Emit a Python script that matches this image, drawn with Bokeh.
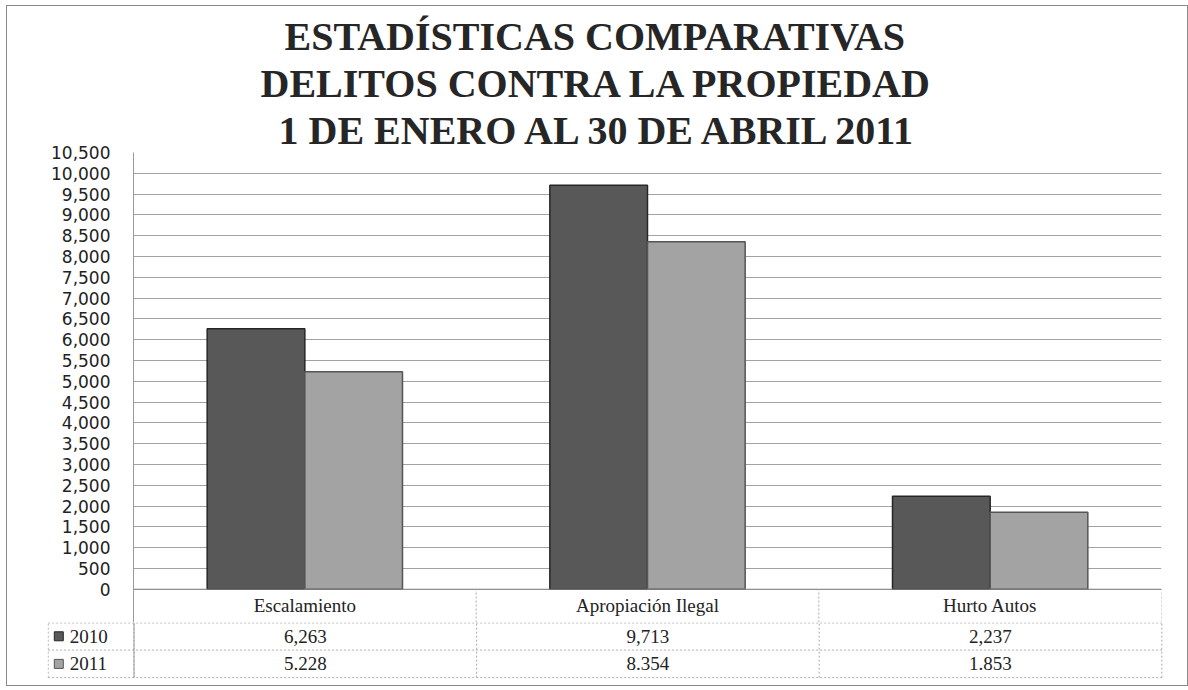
from bokeh.plotting import figure
from bokeh.models import (Range1d, FactorRange, FixedTicker, NumeralTickFormatter,
                          ColumnDataSource, Title)
from bokeh.transform import dodge
from bokeh.layouts import column
from bokeh.embed import file_html
from bokeh.resources import INLINE
from bokeh.core.properties import value

# ---------------- data ----------------
categories = ["Escalamiento", "Apropiación Ilegal", "Hurto Autos"]
years = ["2010", "2011"]
values_2010 = [6263, 9713, 2237]
values_2011 = [5228, 8354, 1853]
thousands_sep = {"2010": ",", "2011": "."}   # as printed in the data table
y_ticks = list(range(0, 10501, 500))
title_lines = ["ESTADÍSTICAS COMPARATIVAS",
               "DELITOS CONTRA LA PROPIEDAD",
               "1 DE ENERO AL 30 DE ABRIL 2011"]

# ---------------- styles / layout ----------------
COL = {"2010": "#585858", "2011": "#a3a3a3"}
EDGE = {"2010": "#262626", "2011": "#555555"}
GRID = "#a2a2a2"
TABLE_LINE = "#ababab"
W = 1180
BAR_W = 0.285
OFFS = {"2010": -0.1425, "2011": 0.1425}
LEG_W = 0.2525
HEADER = 800          # height of the category row below the axis (value units)
SERIF = "Liberation Serif"
TXT = "#222222"
TITLE_OFFSETS = [151, 127, 145]   # px from the frame's left edge (centres the lines)

# ---------------- bar chart (with title and category row) ----------------
p1 = figure(width=W, height=616,
            x_range=FactorRange(factors=categories, range_padding=0, factor_padding=0),
            y_range=Range1d(-HEADER, 10500),
            output_backend="svg", toolbar_location=None,
            x_axis_location=None,
            min_border=0, min_border_left=126, min_border_right=26,
            min_border_top=146, min_border_bottom=0)
p1.outline_line_color = None

# first added title sits closest to the frame -> add bottom line first
for t, off in reversed(list(zip(title_lines, TITLE_OFFSETS))):
    p1.add_layout(Title(text=t, align="left", offset=off, standoff=0,
                        text_font=SERIF, text_font_style="bold",
                        text_font_size="40px", text_color="#262626"), "above")

src = ColumnDataSource(dict(cat=categories, v2010=values_2010, v2011=values_2011))
for yr in years:
    p1.vbar(x=dodge("cat", OFFS[yr], range=p1.x_range), top="v" + yr, width=BAR_W,
            source=src, fill_color=COL[yr], line_color=EDGE[yr], line_width=1.5)

ax = p1.yaxis[0]
ax.ticker = FixedTicker(ticks=y_ticks)
ax.formatter = NumeralTickFormatter(format="0,0")
ax.major_tick_line_color = None
ax.minor_tick_line_color = None
ax.axis_line_color = "#9a9a9a"
ax.major_label_standoff = 17
ax.major_label_text_font = "DejaVu Sans"
ax.major_label_text_font_size = "17px"
ax.major_label_text_color = TXT

p1.ygrid.ticker = FixedTicker(ticks=y_ticks)
p1.ygrid.grid_line_color = GRID
p1.ygrid.grid_line_width = 1
p1.xgrid.grid_line_color = None

n = len(categories)
p1.segment(x0=[0], y0=[0], x1=[n], y1=[0], line_color="#8a8a8a", line_width=1)
p1.segment(x0=list(range(1, n + 1)), y0=[-HEADER] * n, x1=list(range(1, n + 1)),
           y1=[0] * n, line_color=TABLE_LINE, line_dash="2 2", line_width=1)
p1.text(x=categories, y=[-HEADER / 2] * n, text=categories, text_align="center",
        text_baseline="middle", text_font=value(SERIF), text_font_size="19px",
        text_color=TXT)

# ---------------- data table rows ----------------
p2 = figure(width=W, height=63,
            x_range=Range1d(-LEG_W, 3.005), y_range=Range1d(-0.03, 2.0),
            output_backend="svg", toolbar_location=None,
            x_axis_location=None, y_axis_location=None,
            min_border=0, min_border_left=40, min_border_right=24,
            min_border_top=0, min_border_bottom=7)
p2.outline_line_color = None
p2.grid.visible = False

xl = -LEG_W + 0.002
p2.segment(x0=[xl, xl, xl], y0=[1.985, 1, 0], x1=[n, n, n], y1=[1.985, 1, 0],
           line_color=TABLE_LINE, line_dash="2 2", line_width=1)
vx = [xl] + list(range(n + 1))
p2.segment(x0=vx, y0=[0] * len(vx), x1=vx, y1=[2] * len(vx),
           line_color=TABLE_LINE, line_dash="2 2", line_width=1)
p2.segment(x0=[0], y0=[0], x1=[0], y1=[2], line_color="#9a9a9a", line_width=1)

cx = [i + 0.5 for i in range(n)]
for r, (yr, vals) in enumerate(zip(years, [values_2010, values_2011])):
    yrow = 1.5 - r
    labels = [f"{v:,}".replace(",", thousands_sep[yr]) for v in vals]
    p2.text(x=cx, y=[yrow] * n, text=labels, text_align="center",
            text_baseline="middle", text_font=value(SERIF), text_font_size="19px",
            text_color=TXT)
    p2.scatter(x=[-LEG_W + 0.033], y=[yrow], marker="square", size=9,
               fill_color=COL[yr], line_color=EDGE[yr])
    p2.text(x=[-LEG_W + 0.065], y=[yrow], text=[yr], text_align="left",
            text_baseline="middle", text_font=value(SERIF), text_font_size="19px",
            text_color=TXT)

layout = column(column(p1), column(p2), spacing=0,
                styles={"border": "1px solid #8a8a8a", "margin-left": "6px",
                        "margin-top": "5px"})
open("out.html", "w").write(file_html(layout, INLINE))
